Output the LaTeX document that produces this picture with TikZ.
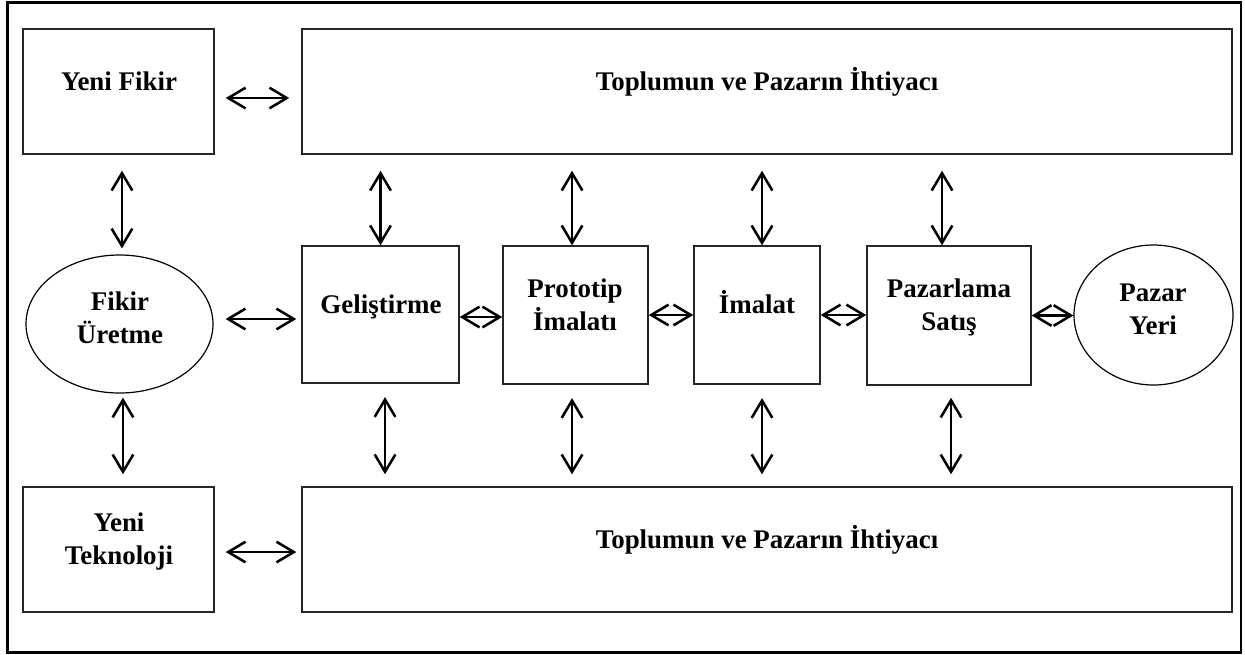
\documentclass[tikz,border=0pt]{standalone}
\usepackage{fontspec}
\setmainfont{Liberation Serif}
\usetikzlibrary{arrows.meta,shapes.geometric}
\begin{document}
\begin{tikzpicture}[x=0.75pt,y=-0.75pt,
  rbox/.style n args={2}{draw=black!85, line width=1.1pt, inner sep=0pt,
    minimum width=#1*0.75pt, minimum height=#2*0.75pt},
  oval/.style n args={2}{ellipse, draw=black, line width=0.9pt, inner sep=0pt,
    minimum width=#1*0.75pt, minimum height=#2*0.75pt},
  lbl/.style={anchor=base, align=center, inner sep=0pt,
    font=\bfseries\fontsize{20.2}{24.75}\selectfont},
  dbl/.style={{Straight Barb[length=13pt,width=15.5pt]}-{Straight Barb[length=13pt,width=15.5pt]}, line width=1.9pt}]
\useasboundingbox (0,0) rectangle (1245,654);
\draw[line width=2pt] (7.7,2.7) rectangle (1241,652.5);

% boxes
\node[rbox={191}{125}] (yf) at (118.5,91.5) {};
\node[rbox={930}{125}] (top) at (767,91.5) {};
\node[rbox={191}{125}] (yt) at (118.5,549.5) {};
\node[rbox={930}{125}] (bot) at (767,549.5) {};
\node[rbox={157}{137}] (gel) at (380.5,314.5) {};
\node[rbox={145}{138}] (pro) at (575.5,315) {};
\node[rbox={126}{138}] (ima) at (757,315) {};
\node[rbox={164}{139}] (paz) at (949,315.5) {};
\node[oval={187}{138}] (fu) at (119.5,324) {};
\node[oval={159}{140}] (py) at (1153.5,315) {};

% texts (anchor base = baseline of last line)
\node[lbl] (yftx) at (119,90) {Yeni Fikir};
\node[lbl] (toptx) at (767,90) {Toplumun ve Pazarın İhtiyacı};
\node[lbl] (bottx) at (767,548) {Toplumun ve Pazarın İhtiyacı};
\node[lbl] (yttx) at (119,564) {Yeni\\Teknoloji};
\node[lbl] (futx) at (120,343) {Fikir\\Üretme};
\node[lbl] (geltx) at (381,313) {Geliştirme};
\node[lbl] (protx) at (575,330) {Prototip\\İmalatı};
\node[lbl] (imatx) at (757,313) {İmalat};
\node[lbl] (paztx) at (949,330) {Pazarlama\\Satış};
\node[lbl] (pytx) at (1153,334) {Pazar\\Yeri};

% left column verticals
\draw[dbl, shorten <=12pt, shorten >=4.5pt] ([xshift=2.6pt]yf.south) -- ([xshift=2.6pt]yf.south |- fu.north);
\draw[dbl, shorten <=3pt, shorten >=9pt] ([xshift=2.6pt]fu.south) -- ([xshift=2.6pt]fu.south |- yt.north);

% top verticals
\draw[dbl, shorten <=12pt] (gel.north |- top.south) -- (gel.north);
\draw[dbl, shorten <=12pt] ([xshift=-2.6pt]pro.north |- top.south) -- ([xshift=-2.6pt]pro.north);
\draw[dbl, shorten <=12pt] ([xshift=3.75pt]ima.north |- top.south) -- ([xshift=3.75pt]ima.north);
\draw[dbl, shorten <=12pt] ([xshift=-5.25pt]paz.north |- top.south) -- ([xshift=-5.25pt]paz.north);

% bottom verticals
\draw[dbl, shorten <=10pt, shorten >=9pt] ([xshift=3.4pt]gel.south) -- ([xshift=3.4pt]gel.south |- bot.north);
\draw[dbl, shorten <=10pt, shorten >=9pt] ([xshift=-2.6pt]pro.south) -- ([xshift=-2.6pt]pro.south |- bot.north);
\draw[dbl, shorten <=10pt, shorten >=9pt] ([xshift=3.75pt]ima.south) -- ([xshift=3.75pt]ima.south |- bot.north);
\draw[dbl, shorten <=9pt, shorten >=9pt] ([xshift=1.5pt]paz.south) -- ([xshift=1.5pt]paz.south |- bot.north);

% horizontals
\draw[dbl, shorten <=8.25pt, shorten >=9pt] ([yshift=-4.9pt]yf.east) -- ([yshift=-4.9pt]yf.east -| top.west);
\draw[dbl, shorten <=9pt, shorten >=3.75pt] ([yshift=3.75pt]fu.east) -- ([yshift=3.75pt]fu.east -| gel.west);
\draw[dbl] ([yshift=-1.9pt]gel.east) -- ([yshift=-1.9pt]gel.east -| pro.west);
\draw[dbl] (pro.east) -- (ima.west);
\draw[dbl] (ima.east) -- (ima.east -| paz.west);
\draw[dbl] (paz.east) -- (paz.east -| py.west);
\draw[dbl, shorten <=8.25pt, shorten >=3.75pt] ([yshift=-1.9pt]yt.east) -- ([yshift=-1.9pt]yt.east -| bot.west);
\end{tikzpicture}
\end{document}
